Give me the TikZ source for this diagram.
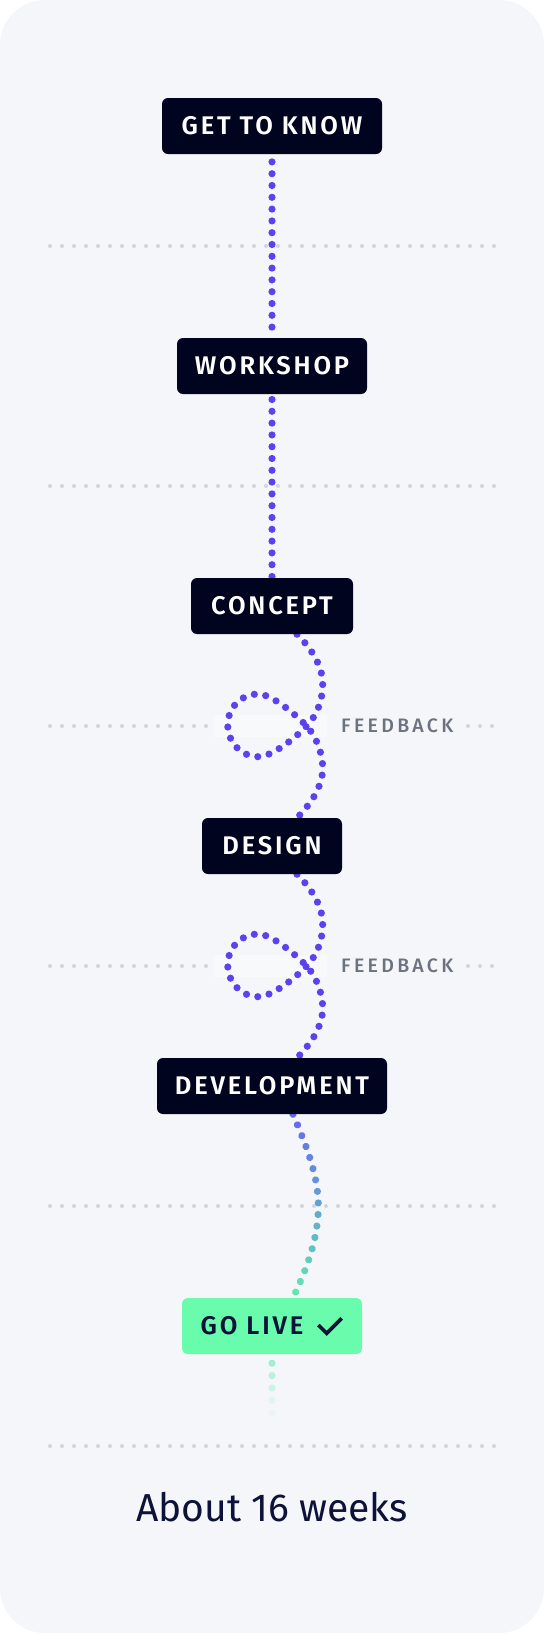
\documentclass[tikz,border=0pt]{standalone}
\usepackage{fontspec}
\setmainfont{Fira Sans}
\newfontfamily\labfont{Fira Sans SemiBold}[LetterSpace=11]
\newfontfamily\fbfont{Fira Sans Medium}[LetterSpace=17]
\usetikzlibrary{decorations.markings,calc}
\definecolor{bg}{HTML}{F5F6FA}
\definecolor{navy}{HTML}{00041F}
\definecolor{pu}{HTML}{5C42EE}
\definecolor{gy}{HTML}{CFD5E2}
\definecolor{fbtext}{HTML}{6B7280}
\definecolor{gstart}{HTML}{6766EE}
\definecolor{gmid}{HTML}{63A4D2}
\definecolor{gend}{HTML}{62EAAE}
\definecolor{golive}{HTML}{69FCAC}
\definecolor{ink}{HTML}{0C1238}
\pgfdeclarelayer{back}
\pgfdeclarelayer{mid}
\pgfsetlayers{back,mid,main}
\begin{document}
\begin{tikzpicture}[x=1pt,y=-1pt,
  stepbox/.style={fill=navy, rounded corners=6pt, text=white,
    font=\labfont\fontsize{25.5}{28}\selectfont,
    minimum height=56pt, inner sep=0pt},
  fbstyle/.style={text=fbtext, inner sep=0pt,
    font=\fbfont\fontsize{19.5}{22}\selectfont},
  pdot/.style={draw=pu, line width=7.2pt, line cap=round,
    dash pattern=on 0pt off 11.6pt},
  gdot/.style={draw=gy, line width=4pt, line cap=round,
    dash pattern=on 0pt off 12pt},
  grad/.style={decoration={markings,
    mark=between positions 0 and 1 step 11.6pt with {%
      \pgfmathsetmacro\ff{\pgfkeysvalueof{/pgf/decoration/mark info/distance from start}/\pgfdecoratedpathlength}%
      \pgfmathtruncatemacro\tt{200*\ff}%
      \ifnum\tt<100
        \fill[gmid!\tt!gstart] (0,0) circle (3.6pt);
      \else
        \pgfmathtruncatemacro\uu{min(100,\tt-100)}%
        \fill[gend!\uu!gmid] (0,0) circle (3.6pt);
      \fi}}, decorate}
]
\useasboundingbox (0,0) rectangle (544,1633);

% nodes
\node[stepbox, minimum width=220pt] (k) at (272,126) {GET TO KNOW};
\node[stepbox, minimum width=190pt] (w) at (272,366) {WORKSHOP};
\node[stepbox, minimum width=162pt] (c) at (272,606) {CONCEPT};
\node[stepbox, minimum width=140pt] (d) at (272,846) {DESIGN};
\node[stepbox, minimum width=230pt] (v) at (272,1086) {DEVELOPMENT};
\node[stepbox, fill=golive, text=ink, minimum width=180pt] (g) at (272,1326) {GO LIVE\hspace*{40pt}};
\draw[ink, line width=3.6pt] (318.3,1325) -- (326.7,1333.3) -- (341.7,1318.3);
\node[fbstyle, anchor=west] (f1) at (341,726) {FEEDBACK};
\node[fbstyle, anchor=west] (f2) at (341,966) {FEEDBACK};
\node[font=\fontsize{39}{44}\selectfont, text=ink, anchor=base, inner sep=0pt] (t) at (272,1521) {About 16 weeks};

\begin{pgfonlayer}{back}
  \fill[white] (0,0) rectangle (544,1633);
  \fill[bg, rounded corners=45pt] (0,0) rectangle (544,1633);
  \foreach \yy in {246,486,1206,1446}
    \draw[gdot] (50,\yy) -- (494.5,\yy);
  \foreach \yy in {726,966} {
    \draw[gdot] (50,\yy) -- (206.5,\yy);
    \draw[gdot] (468,\yy) -- (492.5,\yy);
    \fill[white, opacity=0.35] (214,\yy-11) rectangle (327,\yy+11);
  }
\end{pgfonlayer}

\begin{pgfonlayer}{mid}
  \draw[pdot, dash pattern=on 0pt off 11.8pt, dash phase=4.1pt] (k.south) -- (w.north);
  \draw[pdot, dash pattern=on 0pt off 11.8pt, dash phase=6.5pt] (w.south) -- (c.north);
  \foreach \a/\b/\dy in {c/d/0, d/v/240} {
    \draw[pdot] ([xshift=25pt]\a.south)
      .. controls (310,{647+\dy}) and (322.7,{665+\dy}) .. (322.7,{684+\dy})
      .. controls (322.7,{699+\dy}) and (318,{714+\dy}) .. (306.7,{726+\dy})
      .. controls (297,{736.5+\dy}) and (272,{757+\dy}) .. (258.3,{756.7+\dy})
      .. controls (241,{756.7+\dy}) and (227.7,{742+\dy}) .. (227.7,{725+\dy})
      .. controls (227.7,{708+\dy}) and (241,{694+\dy}) .. (258.3,{694+\dy})
      .. controls (272,{694+\dy}) and (297,{716+\dy}) .. (306.7,{726+\dy})
      .. controls (315,{735+\dy}) and (322.7,{752+\dy}) .. (322.7,{768+\dy})
      .. controls (322.7,{787+\dy}) and (310,{805+\dy}) .. ([xshift=25pt]\b.north);
  }
  \path[grad] ([xshift=21pt]v.south)
      .. controls (306,1145) and (318.3,1175) .. (318.3,1206)
      .. controls (318.3,1240) and (306,1270) .. ([xshift=21pt]g.north);
  \foreach \i/\o in {0/0.55,1/0.4,2/0.27,3/0.15,4/0.07}
    \fill[gend, opacity=\o] ($(g.south)+(0,9+12.4*\i)$) circle (3.6pt);
\end{pgfonlayer}
\end{tikzpicture}
\end{document}
